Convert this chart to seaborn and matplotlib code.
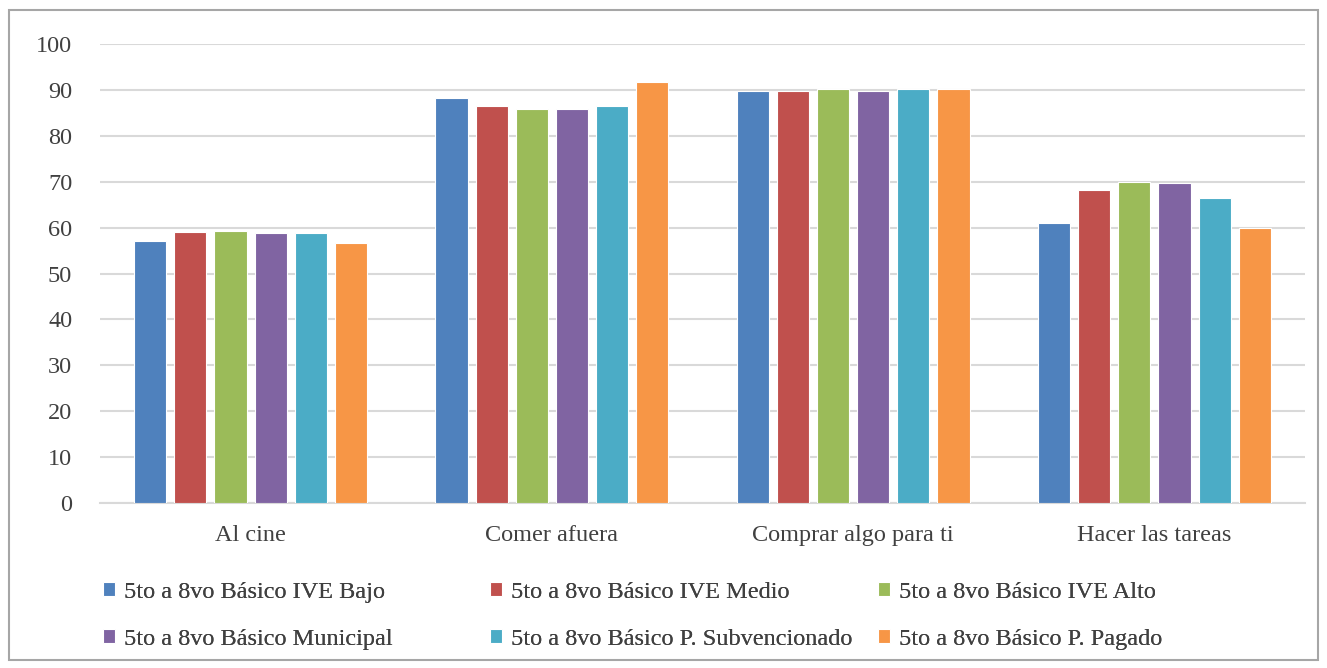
import pandas as pd
import numpy as np
import matplotlib.pyplot as plt
import seaborn as sns
from matplotlib.patches import Rectangle

categorias = ["Al cine", "Comer afuera", "Comprar algo para ti", "Hacer las tareas"]
grupos = ["5to a 8vo Básico IVE Bajo", "5to a 8vo Básico IVE Medio", "5to a 8vo Básico IVE Alto",
          "5to a 8vo Básico Municipal", "5to a 8vo Básico P. Subvencionado", "5to a 8vo Básico P. Pagado"]
ive_bajo = [57.1, 88.2, 89.8, 61.0]
ive_medio = [59.1, 86.6, 89.7, 68.2]
ive_alto = [59.3, 85.8, 90.3, 70.0]
municipal = [58.9, 85.8, 89.8, 69.7]
subvencionado = [58.8, 86.4, 90.1, 66.4]
pagado = [56.6, 91.7, 90.2, 59.9]
colores = ["#4F81BD", "#C0504D", "#9BBB59", "#8064A2", "#4BACC6", "#F79646"]

series = [ive_bajo, ive_medio, ive_alto, municipal, subvencionado, pagado]
df = pd.DataFrame({
    "Actividad": categorias * len(grupos),
    "Grupo": [g for g in grupos for _ in categorias],
    "Valor": [v for s in series for v in s],
})

sns.set_style("white")
plt.rcParams['font.family'] = ['Liberation Serif', 'DejaVu Serif']

fig = plt.figure(figsize=(13.27, 6.68), dpi=100)
ax = fig.add_axes([100 / 1327, 1 - 503 / 668, 1205 / 1327, 459 / 668])

sns.barplot(data=df, x="Actividad", y="Valor", hue="Grupo", order=categorias,
            hue_order=grupos, palette=colores, saturation=1, width=0.8, gap=0.2,
            edgecolor="#FFFFFF", linewidth=0.8, ax=ax, zorder=3)

ax.set_ylim(0, 100)
ax.set_xlim(-0.5, 3.5)
ax.set_yticks(range(0, 101, 10))
ax.yaxis.grid(True, color="#D9D9D9", linewidth=1.5, zorder=0)
ax.set_axisbelow(True)
for s in ["top", "right", "left"]:
    ax.spines[s].set_visible(False)
ax.spines["bottom"].set_color("#D9D9D9")
ax.spines["bottom"].set_linewidth(1.5)
ax.tick_params(axis="both", length=0, labelsize=17.5, colors="#404040")
ax.tick_params(axis="x", pad=16)
ax.tick_params(axis="y", pad=20)
ax.set_xlabel("")
ax.set_ylabel("")

handles, labels = ax.get_legend_handles_labels()
ax.get_legend().remove()
col_x = [103, 490, 878]
for i, x in enumerate(col_x):
    idx = [i, i + 3]
    leg = fig.legend([handles[j] for j in idx], [labels[j] for j in idx],
                     loc="upper left", bbox_to_anchor=(x / 1327, 1 - 582 / 668),
                     ncol=1, frameon=False, fontsize=17.5, handlelength=0.5,
                     handleheight=0.5, handletextpad=0.35, labelspacing=1.05,
                     labelcolor="#404040", borderpad=0, borderaxespad=0)
    fig.add_artist(leg)

fig.add_artist(Rectangle((9 / 1327, 8 / 668), 1309 / 1327, 650 / 668,
                         transform=fig.transFigure, fill=False,
                         edgecolor="#A6A6A6", linewidth=1.5))

fig.savefig("out.png", dpi=100)
